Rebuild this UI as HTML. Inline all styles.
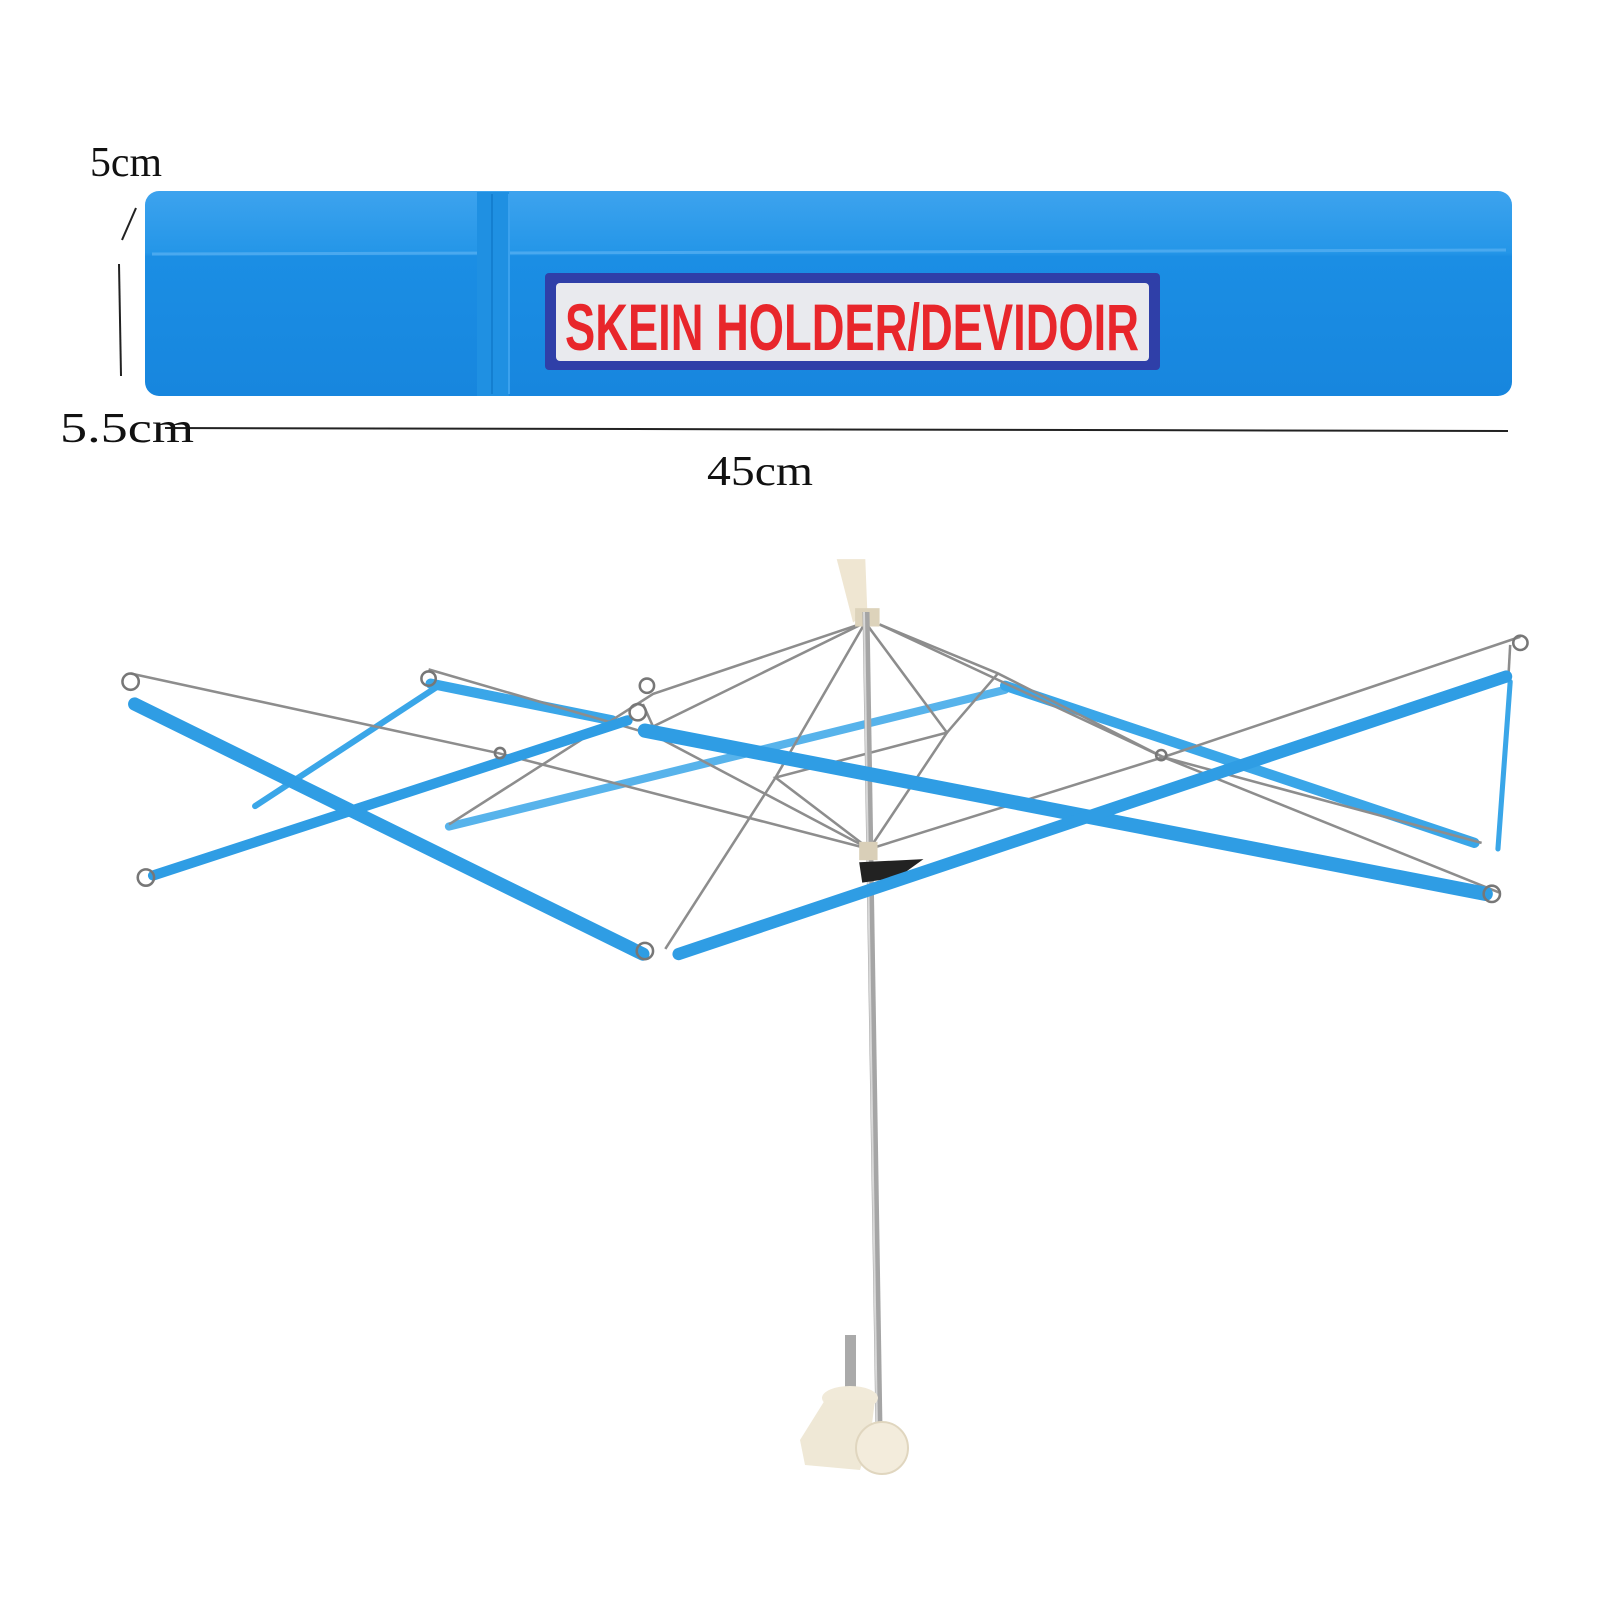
<!DOCTYPE html>
<html><head><style>
html,body{margin:0;padding:0;background:#fff;}
svg{display:block;}
</style></head><body>
<svg width="1600" height="1600" viewBox="0 0 1600 1600" xmlns="http://www.w3.org/2000/svg">
<defs>
<linearGradient id="bx" x1="0" y1="0" x2="0" y2="1">
<stop offset="0" stop-color="#3da3ee"/><stop offset="0.3" stop-color="#2496e8"/><stop offset="0.32" stop-color="#1b8ee4"/><stop offset="1" stop-color="#1786de"/>
</linearGradient>
</defs>
<!-- box -->
<rect x="145" y="191" width="1367" height="205" rx="14" fill="url(#bx)"/>
<path d="M152 254 L1506 250" stroke="#4aa9ef" stroke-width="3"/>
<rect x="477" y="192" width="32" height="204" fill="#1f90e2"/>
<line x1="492" y1="194" x2="492" y2="394" stroke="#147fd0" stroke-width="2"/>
<line x1="509" y1="194" x2="509" y2="394" stroke="#3ba2ee" stroke-width="2"/>
<rect x="545" y="273" width="615" height="97" rx="4" fill="#2f3fa8"/>
<rect x="556" y="283" width="593" height="78" rx="4" fill="#e9eaee"/>
<text x="852" y="350" text-anchor="middle" font-family="Liberation Sans, sans-serif" font-weight="bold" font-size="66" fill="#e8262b" textLength="574" lengthAdjust="spacingAndGlyphs">SKEIN HOLDER/DEVIDOIR</text>
<!-- dimension lines -->
<line x1="136" y1="208" x2="122" y2="240" stroke="#222" stroke-width="2"/>
<line x1="119" y1="264" x2="121" y2="376" stroke="#222" stroke-width="2"/>
<line x1="165" y1="428" x2="1508" y2="431" stroke="#222" stroke-width="2"/>
<g font-family="Liberation Serif, serif" font-size="42" fill="#111">
<text x="90" y="176" textLength="72" lengthAdjust="spacingAndGlyphs">5cm</text>
<text x="60" y="442" textLength="134" lengthAdjust="spacingAndGlyphs">5.5cm</text>
<text x="707" y="485" textLength="106" lengthAdjust="spacingAndGlyphs">45cm</text>
</g>
<g transform="scale(1.0204)">
<!-- back blue rods -->
<g stroke="#3aa6e8" stroke-linecap="round" fill="none">
<line x1="440" y1="810" x2="985" y2="676" stroke-width="8" opacity="0.85"/>
<line x1="985" y1="672" x2="1445" y2="826" stroke-width="10"/>
<line x1="430" y1="672" x2="250" y2="790" stroke-width="6"/>
<line x1="422" y1="670" x2="600" y2="706" stroke-width="10"/>
<line x1="1480" y1="668" x2="1468" y2="832" stroke-width="5"/>
</g>
<!-- silver wires -->
<g stroke="#8d8d8d" stroke-width="2.5" fill="none">
<polyline points="128,660 488,738 852,832"/>
<polyline points="420,656 640,720 852,832"/>
<polyline points="848,610 640,680 440,808"/>
<polyline points="848,610 640,712 630,690"/>
<polyline points="848,610 760,762 652,930"/>
<polyline points="848,610 928,718 852,832"/>
<polyline points="862,612 978,660 1140,742 1452,826"/>
<polyline points="862,612 1140,742 1490,624"/>
<polyline points="1140,742 852,832"/>
<polyline points="1480,632 1478,668"/>
<polyline points="978,660 928,718 760,762 852,832"/>
<polyline points="1140,742 1470,875"/>
</g>
<path d="M820 548 L848 548 L850 600 L836 610 Z" fill="#efe6d2"/>
<rect x="838" y="596" width="24" height="18" fill="#ddd3bb"/>
</g>
<!-- pole -->
<line x1="866" y1="612" x2="879" y2="1430" stroke="#a5a5a5" stroke-width="7"/>
<line x1="864" y1="612" x2="877" y2="1430" stroke="#d8d8d8" stroke-width="2"/>
<g transform="scale(1.0204)">
<rect x="842" y="825" width="18" height="18" fill="#d9cfb8"/>
<path d="M842 845 L905 842 L880 860 L845 865 Z" fill="#222"/>
<!-- front blue rods -->
<g stroke="#2f9de4" stroke-linecap="round" fill="none">
<line x1="132" y1="690" x2="630" y2="935" stroke-width="13"/>
<line x1="150" y1="858" x2="615" y2="706" stroke-width="10"/>
<line x1="632" y1="716" x2="1456" y2="876" stroke-width="14"/>
<line x1="665" y1="935" x2="1476" y2="663" stroke-width="12"/>
</g>
<!-- hooks -->
<g stroke="#777" stroke-width="2.5" fill="none">
<circle cx="128" cy="668" r="8"/><circle cx="143" cy="860" r="8"/>
<circle cx="420" cy="665" r="7"/><circle cx="634" cy="672" r="7"/>
<circle cx="625" cy="698" r="8"/><circle cx="632" cy="932" r="8"/>
<circle cx="1490" cy="630" r="7"/><circle cx="1462" cy="876" r="8"/>
<circle cx="490" cy="738" r="5"/><circle cx="1138" cy="740" r="5"/>
</g>
</g>
<!-- clamp -->
<rect x="845" y="1335" width="11" height="60" fill="#aaa"/>
<ellipse cx="850" cy="1398" rx="28" ry="12" fill="#f1ead9"/>
<path d="M825 1400 L875 1400 L870 1440 L860 1470 L805 1465 L800 1440 Z" fill="#efe8d6"/>
<circle cx="882" cy="1448" r="26" fill="#f3ecdc" stroke="#e0d6bf" stroke-width="2"/>
</svg>
</body></html>
